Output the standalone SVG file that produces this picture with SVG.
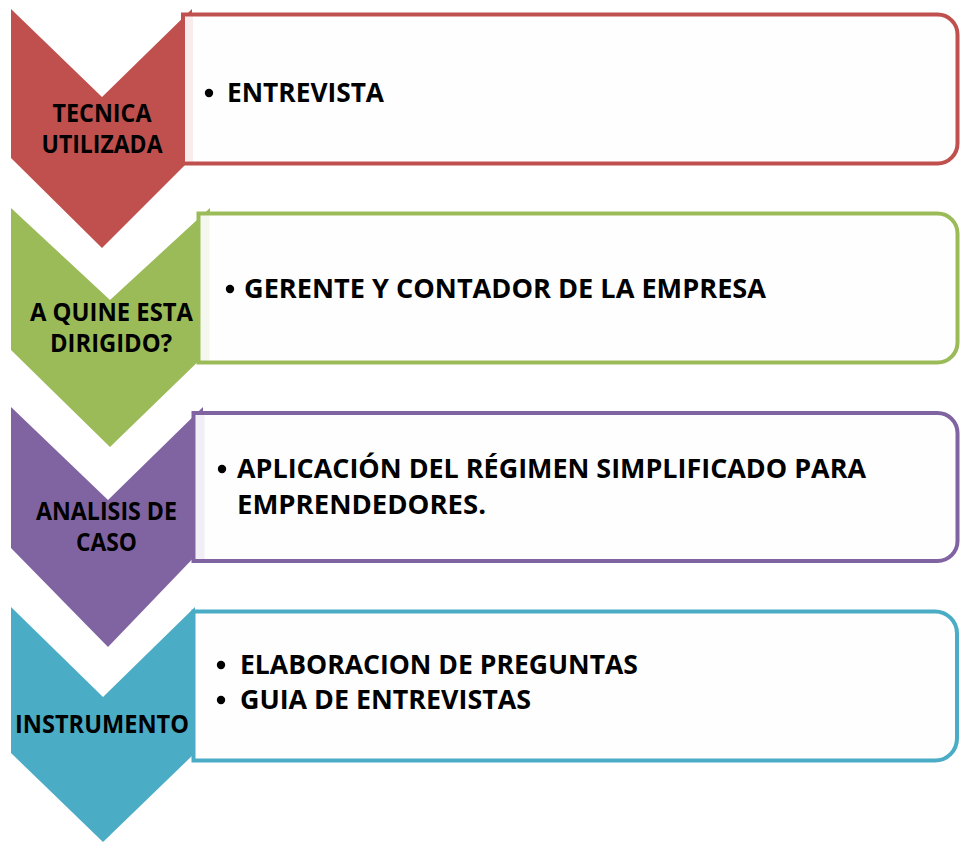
<svg xmlns="http://www.w3.org/2000/svg" width="960" height="843" viewBox="0 0 960 843">
<style>
.lbl{font-family:"Open Sans",Lato,"Liberation Sans",sans-serif;font-weight:bold;font-size:24.5px;fill:#000;text-anchor:middle}
.txt{font-family:"Open Sans",Lato,"Liberation Sans",sans-serif;font-weight:bold;font-size:26.5px;fill:#000}
.box{fill:#fefefe;stroke-width:4}
.strip{opacity:0.1}
</style>
<rect width="960" height="843" fill="#fff"/>
<g id="step1">
<polygon points="11,9 102,97 192,9 192,158 102,248 11,158" fill="#C0504D"/>
<path class="box" stroke="#C0504D" d="M183,14.5 H937.5 A20,20 0 0 1 957.5,34.5 V143.5 A20,20 0 0 1 937.5,163.5 H183 Z"/>
<rect class="strip" x="185" y="16.5" width="8" height="145" fill="#C0504D"/>
<text class="lbl" x="102" y="122" textLength="99" lengthAdjust="spacingAndGlyphs">TECNICA</text>
<text class="lbl" x="102" y="153" textLength="121" lengthAdjust="spacingAndGlyphs">UTILIZADA</text>
<circle cx="209" cy="93" r="4.2" fill="#000"/>
<text class="txt" x="227" y="102" textLength="157" lengthAdjust="spacingAndGlyphs">ENTREVISTA</text>
</g>
<g id="step2">
<polygon points="11,208 110,300 210,208 210,350 110,447 11,350" fill="#9BBB59"/>
<path class="box" stroke="#9BBB59" d="M198.5,213.5 H937.5 A20,20 0 0 1 957.5,233.5 V342.5 A20,20 0 0 1 937.5,362.5 H198.5 Z"/>
<rect class="strip" x="200.5" y="215.5" width="9" height="145" fill="#9BBB59"/>
<text class="lbl" x="111.5" y="321" textLength="163" lengthAdjust="spacingAndGlyphs">A QUINE ESTA</text>
<text class="lbl" x="111" y="352" textLength="122" lengthAdjust="spacingAndGlyphs">DIRIGIDO?</text>
<circle cx="230" cy="289" r="4.2" fill="#000"/>
<text class="txt" x="244" y="298" textLength="522" lengthAdjust="spacingAndGlyphs">GERENTE Y CONTADOR DE LA EMPRESA</text>
</g>
<g id="step3">
<polygon points="11,407 108,500 203,407 203,548 108,647 11,548" fill="#8064A2"/>
<path class="box" stroke="#8064A2" d="M193.5,413 H937.5 A20,20 0 0 1 957.5,433 V541 A20,20 0 0 1 937.5,561 H193.5 Z"/>
<rect class="strip" x="195.5" y="415" width="9" height="144" fill="#8064A2"/>
<text class="lbl" x="106.5" y="520" textLength="141" lengthAdjust="spacingAndGlyphs">ANALISIS DE</text>
<text class="lbl" x="106.5" y="551" textLength="61" lengthAdjust="spacingAndGlyphs">CASO</text>
<circle cx="222" cy="469" r="4.2" fill="#000"/>
<text class="txt" x="237" y="478" textLength="629" lengthAdjust="spacingAndGlyphs">APLICACIÓN DEL RÉGIMEN SIMPLIFICADO PARA</text>
<text class="txt" x="237" y="514" textLength="249" lengthAdjust="spacingAndGlyphs">EMPRENDEDORES.</text>
</g>
<g id="step4">
<polygon points="11,607 103,697 195,607 195,753 103,842 11,753" fill="#4BACC6"/>
<path class="box" stroke="#4BACC6" d="M193.5,611.5 H935 A22,22 0 0 1 957,633.5 V738.5 A22,22 0 0 1 935,760.5 H193.5 Z"/>
<text class="lbl" x="102" y="733" textLength="174" lengthAdjust="spacingAndGlyphs">INSTRUMENTO</text>
<circle cx="221" cy="665" r="4.2" fill="#000"/>
<text class="txt" x="240" y="674" textLength="398" lengthAdjust="spacingAndGlyphs">ELABORACION DE PREGUNTAS</text>
<circle cx="221" cy="700" r="4.2" fill="#000"/>
<text class="txt" x="240" y="709" textLength="291" lengthAdjust="spacingAndGlyphs">GUIA DE ENTREVISTAS</text>
</g>
<g id="connectors"></g>
</svg>
